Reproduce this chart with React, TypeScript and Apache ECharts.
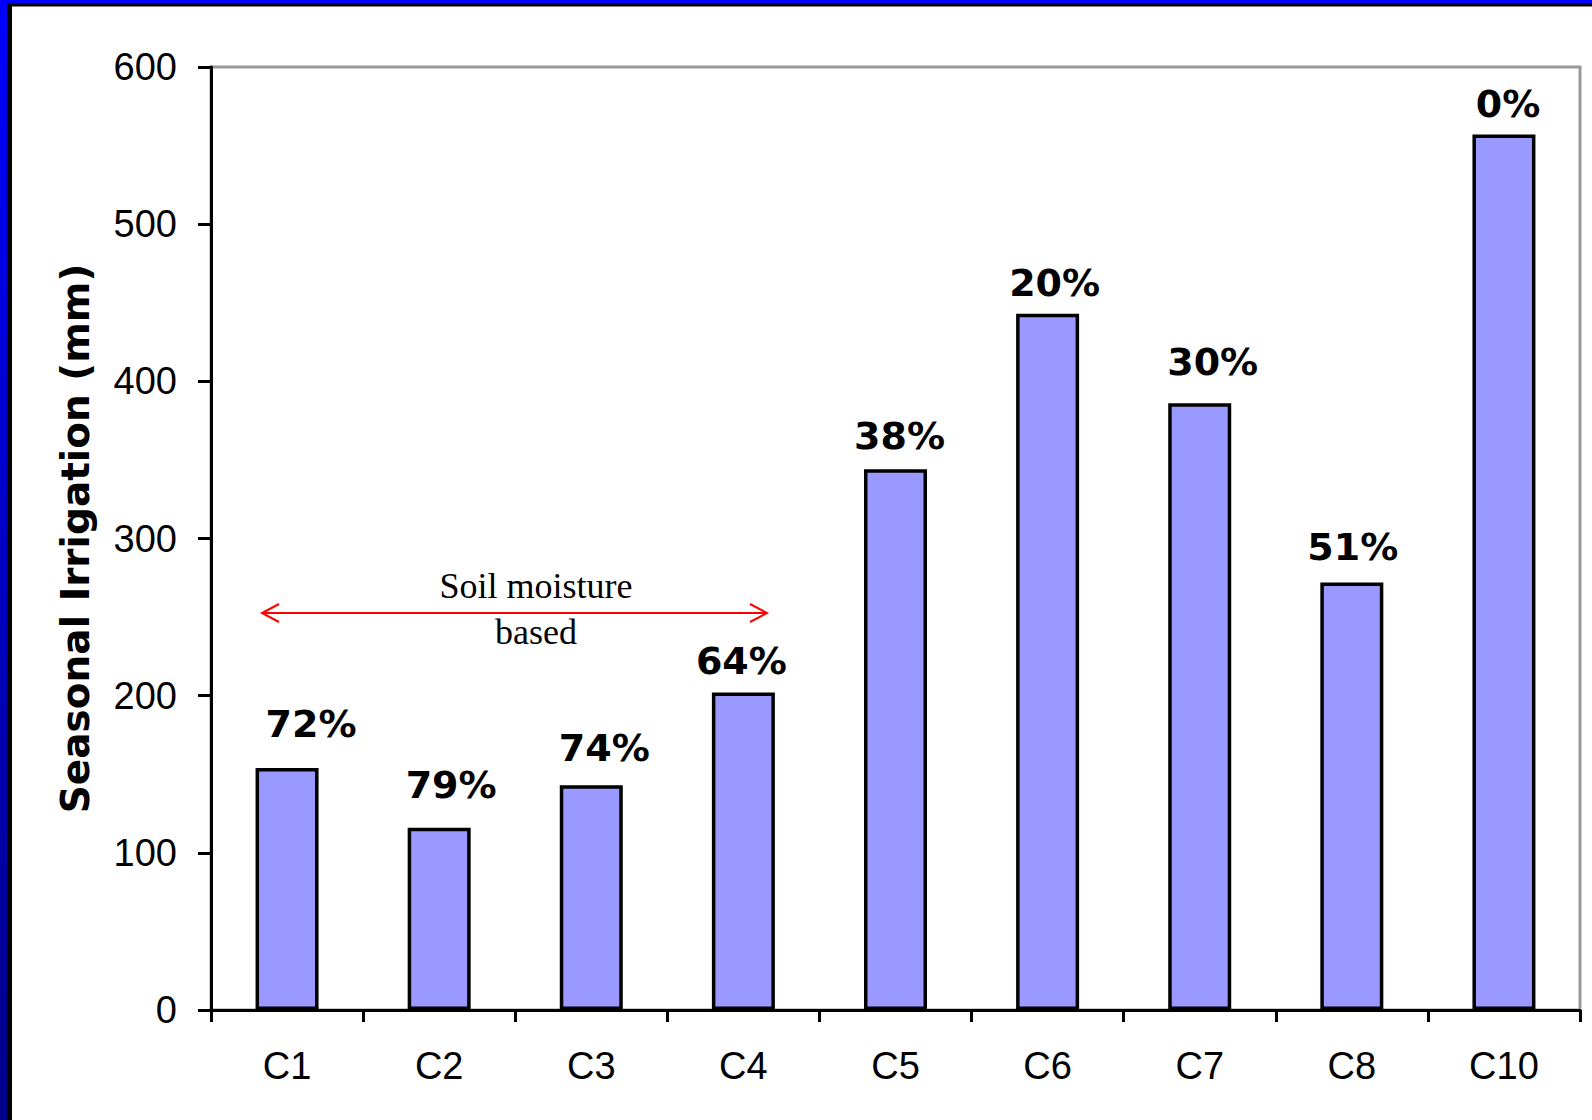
import React, { useEffect, useRef } from "react";
import * as echarts from "echarts";

const categories = ["C1", "C2", "C3", "C4", "C5", "C6", "C7", "C8", "C10"];
const irrigation = [154, 116, 143, 202, 344, 443, 386, 272, 557];
const percentLabels = ["72%", "79%", "74%", "64%", "38%", "20%", "30%", "51%", "0%"];
const labelOffsets = [
  [24, -13], [12, -12], [13, -6], [-2, -1], [4, -2], [7, 0], [13, -10], [1, -5], [4, 0],
];
const yTicks = { min: 0, max: 600, interval: 100 };

export default function App() {
  const ref = useRef<HTMLDivElement>(null);
  useEffect(() => {
    if (!ref.current) return;
    const chart = echarts.init(ref.current, undefined, { renderer: "svg" });
    const data = irrigation.map((v, i) => ({
      value: v,
      label: {
        formatter: percentLabels[i],
        offset: labelOffsets[i],
      },
    }));
    chart.setOption({
      animation: false,
      backgroundColor: "#ffffff",
      grid: {
        left: 211,
        top: 67,
        right: 12,
        bottom: 110,
        show: true,
        borderColor: "#999999",
        borderWidth: 3,
      },
      xAxis: {
        type: "category",
        data: categories,
        axisLine: { lineStyle: { color: "#000", width: 3 } },
        axisTick: { show: true, length: 12, lineStyle: { color: "#000", width: 3 } },
        axisLabel: {
          color: "#000",
          fontFamily: "Liberation Sans, Arial, sans-serif",
          fontSize: 38,
          margin: 37,
        },
      },
      yAxis: {
        type: "value",
        min: yTicks.min,
        max: yTicks.max,
        interval: yTicks.interval,
        name: "Seasonal Irrigation (mm)",
        nameLocation: "middle",
        nameRotate: 90,
        nameGap: 116,
        nameTextStyle: {
          color: "#000",
          fontFamily: "DejaVu Sans",
          fontWeight: "bold",
          fontSize: 39,
        },
        axisLine: { show: true, lineStyle: { color: "#000", width: 3 } },
        axisTick: { show: true, length: 13, lineStyle: { color: "#000", width: 3 } },
        splitLine: { show: false },
        axisLabel: {
          color: "#000",
          fontFamily: "Liberation Sans, Arial, sans-serif",
          fontSize: 38,
          margin: 34,
        },
      },
      series: [
        {
          type: "bar",
          data,
          barWidth: 63,
          itemStyle: { color: "#9999FF", borderColor: "#000", borderWidth: 3.5 },
          label: {
            show: true,
            position: "top",
            distance: 12,
            color: "#000",
            fontFamily: "DejaVu Sans",
            fontWeight: "bold",
            fontSize: 38,
          },
        },
      ],
      graphic: [
        {
          type: "rect",
          z: 100,
          shape: { x: 0, y: 0, width: 1592, height: 3 },
          style: { fill: "#0000FF" },
        },
        {
          type: "rect",
          z: 100,
          shape: { x: 7, y: 3, width: 1592, height: 3.5 },
          style: { fill: "#000" },
        },
        {
          type: "rect",
          z: 100,
          shape: { x: 0, y: 0, width: 7, height: 1120 },
          style: {
            fill: new echarts.graphic.LinearGradient(0, 0, 0, 1, [
              { offset: 0, color: "#0000FF" },
              { offset: 1, color: "#000088" },
            ]),
          },
        },
        {
          type: "rect",
          z: 100,
          shape: { x: 7, y: 3, width: 5, height: 1117 },
          style: { fill: "#000" },
        },
        {
          type: "line",
          z: 100,
          shape: { x1: 262, y1: 613, x2: 767, y2: 613 },
          style: { stroke: "#FF0000", lineWidth: 2 },
        },
        {
          type: "polyline",
          z: 100,
          shape: { points: [[279, 604], [262, 613], [279, 622]] },
          style: { stroke: "#FF0000", lineWidth: 2, fill: "none" },
        },
        {
          type: "polyline",
          z: 100,
          shape: { points: [[750, 604], [767, 613], [750, 622]] },
          style: { stroke: "#FF0000", lineWidth: 2, fill: "none" },
        },
        {
          type: "text",
          z: 100,
          x: 536,
          y: 586,
          style: {
            text: "Soil moisture",
            fill: "#000",
            font: "36px 'Liberation Serif', 'Times New Roman', serif",
            align: "center",
            verticalAlign: "middle",
          },
        },
        {
          type: "text",
          z: 100,
          x: 536,
          y: 632,
          style: {
            text: "based",
            fill: "#000",
            font: "36px 'Liberation Serif', 'Times New Roman', serif",
            align: "center",
            verticalAlign: "middle",
          },
        },
      ],
    });
    return () => chart.dispose();
  }, []);
  return (
    <div
      ref={ref}
      style={{ position: "absolute", left: 0, top: 0, width: 1592, height: 1120 }}
    />
  );
}
